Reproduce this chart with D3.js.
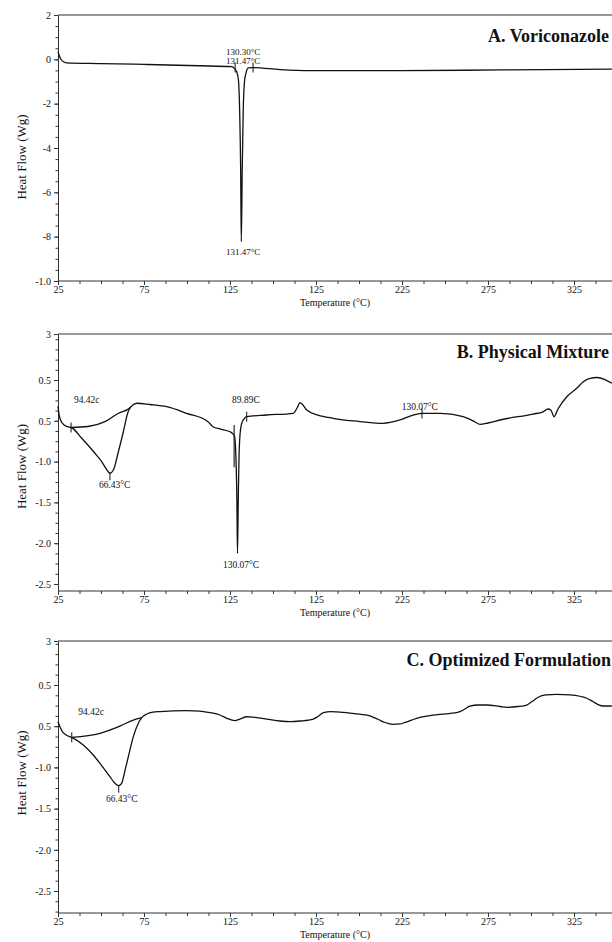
<!DOCTYPE html>
<html>
<head>
<meta charset="utf-8">
<script src="https://cdn.jsdelivr.net/npm/d3@7"></script>
<style>
body { margin: 0; background: #fff; }
svg { display: block; font-family: "Liberation Serif", "Times New Roman", serif; }
</style>
</head>
<body>
<div id="chart"></div>
<script>

// x axis, shared by the three panels (the source prints "125" twice)
var tempTicks = [25, 75, 125, 175, 225, 275, 325];
var tempTickLabels = ["25", "75", "125", "125", "225", "275", "325"];

// A. Voriconazole  [temperature, heat flow]
var voriconazole = [
    [25, 0.35], [26, 0.12], [27, -0.03], [28.5, -0.12], [30, -0.16], [50, -0.19], [75, -0.23],
    [107, -0.29], [126, -0.33], [126.9, -0.36], [128.9, -0.56], [129.9, -0.93], [130.6, -2.29],
    [131.2, -5.0], [131.57, -8.23], [132.1, -5.0], [132.7, -2.29], [133.4, -1.02], [134.3, -0.62],
    [135.6, -0.39], [138.4, -0.37], [154, -0.46], [171.5, -0.51], [224, -0.51], [282, -0.48], [347, -0.44]
];
var voriMarkers = [[128, -0.37], [138.4, -0.37]];
var voriLabels = [
    {text: "130.30°C", t: 132.6, v: 0.19},
    {text: "131.47°C", t: 132.6, v: -0.21},
    {text: "131.47°C", t: 132.6, v: -8.83}
];
var voriYTicks = [2, 0, -2, -4, -6, -8, -10];
var voriYTickLabels = ["2", "0", "-2", "-4", "-6", "-8", "-1.0"];

// B. Physical Mixture
var physMixture = [
    [25, -0.32], [25.6, -0.42], [26.7, -0.50], [28.5, -0.55], [32, -0.58], [32.6, -0.582],
    [38.8, -0.714], [46.5, -0.898], [50.4, -1.001], [54.2, -1.124], [55.2, -1.143], [57.2, -1.103],
    [60.1, -0.879], [63.0, -0.634], [65.5, -0.408], [67.4, -0.327], [70.9, -0.285], [78.5, -0.30],
    [88.2, -0.327], [99.8, -0.408], [112.2, -0.511], [115.1, -0.572], [119.2, -0.60], [125, -0.634],
    [126.7, -0.66], [127.6, -0.686], [128.5, -0.98], [129.0, -1.47], [129.35, -2.124], [129.8, -1.47],
    [130.2, -0.98], [130.8, -0.674], [131.7, -0.539], [133.1, -0.478], [134.7, -0.45], [146.3, -0.429],
    [161.8, -0.408], [164, -0.343], [165.7, -0.278], [167.4, -0.306], [169.6, -0.368], [176.2, -0.43],
    [184.9, -0.469], [200.6, -0.509], [213.9, -0.531], [223.8, -0.49], [231.4, -0.429], [236.6, -0.41],
    [247.1, -0.408], [260.5, -0.45], [266.3, -0.50], [270.3, -0.543], [275, -0.527], [282, -0.49],
    [301.2, -0.417], [307, -0.39], [309.9, -0.355], [311.6, -0.37], [313.4, -0.45], [315.7, -0.355],
    [320.8, -0.205], [326.6, -0.102], [330.2, -0.025], [334.3, 0.021], [338.4, 0.031], [343, 0.006], [347, -0.04]
];
var physBaseline = [[32.6, -0.582], [42.4, -0.570], [52.3, -0.511], [59.9, -0.41], [66.9, -0.34], [67.4, -0.327]];
var physMarkers = [[32.6, -0.582], [134.7, -0.45], [236.6, -0.41]];
var physMinMarkers = [[55.2, -1.143]];
var physPeakLine = [[127.4, -0.55], [127.4, -1.07]];
var physLabels = [
    {text: "94.42c", t: 34.3, v: -0.282},
    {text: "66.43°C", t: 48.8, v: -1.32},
    {text: "89.89C", t: 126.2, v: -0.282},
    {text: "130.07°C", t: 120.9, v: -2.30},
    {text: "130.07°C", t: 224.8, v: -0.368}
];

// C. Optimized Formulation
var optFormulation = [
    [25, -0.445], [26.2, -0.51], [27.3, -0.558], [29.7, -0.607], [33, -0.635],
    [39.7, -0.728], [45.5, -0.85], [49.4, -0.95], [55.2, -1.113], [58.1, -1.193], [60.1, -1.222],
    [62.0, -1.193], [64.0, -1.032], [65.9, -0.87], [68.8, -0.627], [71.7, -0.465], [73.7, -0.397],
    [76.6, -0.352], [80.2, -0.328], [84.3, -0.322], [99.8, -0.312], [115.3, -0.34], [119.2, -0.364],
    [123.1, -0.404], [127.9, -0.433], [130.8, -0.413], [134.7, -0.385], [139.5, -0.394], [146.3, -0.413],
    [154.1, -0.437], [159.9, -0.445], [165.7, -0.437], [173.4, -0.413], [176.2, -0.382], [179.3, -0.336],
    [183.7, -0.324], [189, -0.328], [197.7, -0.348], [206.4, -0.376], [211, -0.416], [215.1, -0.455],
    [219.9, -0.477], [223.8, -0.473], [226.7, -0.455], [233.5, -0.404], [240.1, -0.376], [247.1, -0.356],
    [256.8, -0.336], [258.7, -0.324], [261.6, -0.291], [264.5, -0.255], [269.2, -0.243], [274.2, -0.243],
    [282, -0.261], [285.9, -0.271], [292.4, -0.261], [297.5, -0.243], [300.6, -0.2], [304.2, -0.149],
    [308.7, -0.121], [314.9, -0.113], [322.7, -0.121], [332.4, -0.161], [336.2, -0.203], [339, -0.237],
    [342.1, -0.255], [347, -0.255]
];
var optBaseline = [[33, -0.635], [49.4, -0.586], [61.0, -0.498], [68.8, -0.425], [73.7, -0.397]];
var optMarkers = [[33, -0.635]];
var optMinMarkers = [[60.3, -1.222]];
var optLabels = [
    {text: "94.42c", t: 36.8, v: -0.364},
    {text: "66.43°C", t: 52.9, v: -1.416}
];

// B and C share the odd y labels of the source
var mixYTickLabels = ["3", "0.5", "0.5", "-1.0", "-1.5", "-2.0", "-2.5"];

var width = 612, height = 942;
var svg = d3.select("#chart").append("svg")
    .attr("width", width)
    .attr("height", height);

svg.append("rect").attr("width", width).attr("height", height).attr("fill", "#fff");

var left = 58;

function drawPanel(p) {
    var x = d3.scaleLinear().domain([25, 350]).range([left, left + 325 * 1.72]);
    var y = d3.scaleLinear().domain(p.yDomain).range([p.bottom, p.top]);
    var g = svg.append("g");

    // top frame line
    g.append("line")
        .attr("x1", left).attr("x2", width)
        .attr("y1", p.top).attr("y2", p.top)
        .attr("stroke", "#333").attr("stroke-width", 1);

    // minor ticks
    g.append("g")
        .attr("transform", "translate(0," + p.bottom + ")")
        .call(d3.axisBottom(x).tickValues(d3.range(25, 350, 12.5)).tickSize(3).tickFormat(""))
        .call(function(a) { a.select(".domain").remove(); a.selectAll("line").attr("stroke", "#333"); });
    g.append("g")
        .attr("transform", "translate(" + left + ",0)")
        .call(d3.axisLeft(y).tickValues(p.yMinor).tickSize(2.5).tickFormat(""))
        .call(function(a) { a.select(".domain").remove(); a.selectAll("line").attr("stroke", "#333"); });

    // major axes
    var xAxis = g.append("g")
        .attr("transform", "translate(0," + p.bottom + ")")
        .call(d3.axisBottom(x).tickValues(tempTicks).tickSize(4).tickSizeOuter(0).tickPadding(1)
            .tickFormat(function(d, i) { return tempTickLabels[i]; }));
    var yAxis = g.append("g")
        .attr("transform", "translate(" + left + ",0)")
        .call(d3.axisLeft(y).tickValues(p.yTicks).tickSize(4).tickSizeOuter(0).tickPadding(3)
            .tickFormat(function(d, i) { return p.yTickLabels[i]; }));

    [xAxis, yAxis].forEach(function(a) {
        a.attr("font-family", null).attr("font-size", 10);
        a.selectAll("text").attr("fill", "#111");
        a.selectAll("line, path").attr("stroke", "#333");
    });
    xAxis.select(".domain").attr("d", "M" + left + ",0H" + width);

    // axis titles
    g.append("text")
        .attr("x", 335).attr("y", p.bottom + 25)
        .attr("text-anchor", "middle")
        .attr("font-size", 10)
        .attr("fill", "#111")
        .text("Temperature (°C)");
    g.append("text")
        .attr("transform", "translate(26," + ((p.top + p.bottom) / 2 + p.yLabelShift) + ") rotate(-90)")
        .attr("text-anchor", "middle")
        .attr("font-size", 13)
        .attr("fill", "#111")
        .text("Heat Flow (Wg)");

    // panel title
    g.append("text")
        .attr("x", p.titleX).attr("y", p.top + p.titleDy)
        .attr("text-anchor", "end")
        .attr("font-size", 18)
        .attr("font-weight", "bold")
        .attr("fill", "#111")
        .text(p.title);

    var line = d3.line()
        .x(function(d) { return x(d[0]); })
        .y(function(d) { return y(d[1]); })
        .curve(d3.curveMonotoneX);

    p.series.forEach(function(s) {
        g.append("path")
            .datum(s)
            .attr("d", line)
            .attr("fill", "none")
            .attr("stroke", "#111")
            .attr("stroke-width", 1.3)
            .attr("stroke-linejoin", "round");
    });

    if (p.extraLine) {
        g.append("path")
            .datum(p.extraLine)
            .attr("d", d3.line().x(function(d) { return x(d[0]); }).y(function(d) { return y(d[1]); }))
            .attr("stroke", "#111").attr("stroke-width", 1.1);
    }

    // onset / endset ticks across the curve
    g.selectAll(null).data(p.markers).enter().append("line")
        .attr("x1", function(d) { return x(d[0]); })
        .attr("x2", function(d) { return x(d[0]); })
        .attr("y1", function(d) { return y(d[1]) - 5; })
        .attr("y2", function(d) { return y(d[1]) + 5; })
        .attr("stroke", "#111").attr("stroke-width", 1);

    // peak ticks below the curve
    g.selectAll(null).data(p.minMarkers).enter().append("line")
        .attr("x1", function(d) { return x(d[0]); })
        .attr("x2", function(d) { return x(d[0]); })
        .attr("y1", function(d) { return y(d[1]); })
        .attr("y2", function(d) { return y(d[1]) + 7; })
        .attr("stroke", "#111").attr("stroke-width", 1);

    g.selectAll(null).data(p.labels).enter().append("text")
        .attr("x", function(d) { return x(d.t); })
        .attr("y", function(d) { return y(d.v); })
        .attr("text-anchor", p.labelAnchor)
        .attr("font-size", p.labelSize)
        .attr("fill", "#111")
        .text(function(d) { return d.text; });
}

drawPanel({
    top: 15, bottom: 281, yDomain: [-10, 2],
    yTicks: voriYTicks, yTickLabels: voriYTickLabels, yMinor: d3.range(-10, 2.01, 0.5),
    title: "A. Voriconazole", titleX: 609, titleDy: 27, yLabelShift: 9,
    series: [voriconazole], markers: voriMarkers, minMarkers: [],
    labels: voriLabels, labelAnchor: "middle", labelSize: 9
});

drawPanel({
    top: 334, bottom: 591, yDomain: [-2.586, 0.564],
    yTicks: [0.564, 0, -0.5, -1, -1.5, -2, -2.5], yTickLabels: mixYTickLabels, yMinor: d3.range(-2.5, 0.56, 0.125),
    title: "B. Physical Mixture", titleX: 609, titleDy: 24, yLabelShift: 4,
    series: [physMixture, physBaseline], extraLine: physPeakLine, markers: physMarkers, minMarkers: physMinMarkers,
    labels: physLabels, labelAnchor: "start", labelSize: 9.5
});

drawPanel({
    top: 641, bottom: 913, yDomain: [-2.767, 0.534],
    yTicks: [0.534, 0, -0.5, -1, -1.5, -2, -2.5], yTickLabels: mixYTickLabels, yMinor: d3.range(-2.75, 0.53, 0.125),
    title: "C. Optimized Formulation", titleX: 611, titleDy: 25, yLabelShift: -4,
    series: [optFormulation, optBaseline], markers: optMarkers, minMarkers: optMinMarkers,
    labels: optLabels, labelAnchor: "start", labelSize: 9.5
});

</script>
</body>
</html>
